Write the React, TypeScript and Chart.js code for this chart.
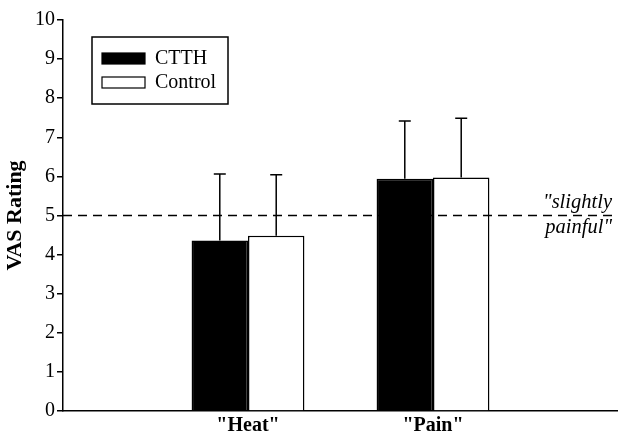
import React, { useEffect, useRef } from "react";
import { Chart, registerables } from "chart.js";

Chart.register(...registerables);

const categories = ['"Heat"', '"Pain"'];
const seriesNames = ["CTTH", "Control"];
const ctthMeans = [4.36, 5.94];
const controlMeans = [4.48, 5.97];
const ctthSD = [1.7, 1.48];
const controlSD = [1.56, 1.52];
const yTicks = [0, 1, 2, 3, 4, 5, 6, 7, 8, 9, 10];
const referenceValue = 5;
const referenceLabel = ['"slightly', 'painful"'];

const SERIF = "'Liberation Serif', 'DejaVu Serif', serif";

export default function App() {
  const ref = useRef<HTMLCanvasElement | null>(null);

  useEffect(() => {
    if (!ref.current) return;
    const errors = [ctthSD, controlSD];

    const overlay = {
      id: "overlay",
      afterDatasetsDraw(chart: any) {
        const ctx = chart.ctx;
        const y = chart.scales.y;
        const area = chart.chartArea;
        ctx.save();
        // error bars
        chart.data.datasets.forEach((ds: any, di: number) => {
          const meta = chart.getDatasetMeta(di);
          meta.data.forEach((bar: any, i: number) => {
            const v = ds.data[i].y;
            const top = y.getPixelForValue(v + errors[di][i]);
            const base = y.getPixelForValue(v);
            ctx.strokeStyle = "#000";
            ctx.lineWidth = 1.5;
            ctx.beginPath();
            ctx.moveTo(bar.x, base);
            ctx.lineTo(bar.x, top);
            ctx.moveTo(bar.x - 6, top);
            ctx.lineTo(bar.x + 6, top);
            ctx.stroke();
          });
        });
        // reference dashed line
        const ry = y.getPixelForValue(referenceValue);
        ctx.setLineDash([9, 6]);
        ctx.lineWidth = 1.5;
        ctx.beginPath();
        ctx.moveTo(area.left, ry);
        ctx.lineTo(chart.width, ry);
        ctx.stroke();
        ctx.setLineDash([]);
        // reference label
        ctx.fillStyle = "#000";
        ctx.font = `italic 20.5px ${SERIF}`;
        ctx.textAlign = "right";
        ctx.textBaseline = "alphabetic";
        ctx.fillText(referenceLabel[0], chart.width - 6, ry - 8);
        ctx.fillText(referenceLabel[1], chart.width - 6, ry + 17);
        // legend box
        const lx = 92, ly = 37, lw = 136, lh = 67;
        ctx.lineWidth = 1.5;
        ctx.strokeRect(lx, ly, lw, lh);
        const fills = ["#000", "#fff"];
        ctx.font = `20px ${SERIF}`;
        ctx.textAlign = "left";
        ctx.textBaseline = "middle";
        seriesNames.forEach((name, k) => {
          const sy = ly + 16 + k * 24;
          ctx.fillStyle = fills[k];
          ctx.fillRect(lx + 10, sy, 43, 11);
          ctx.strokeStyle = "#000";
          ctx.lineWidth = 1.2;
          ctx.strokeRect(lx + 10, sy, 43, 11);
          ctx.fillStyle = "#000";
          ctx.fillText(name, lx + 63, sy + 6);
        });
        ctx.restore();
      },
    };

    const chart = new Chart(ref.current, {
      type: "bar",
      data: {
        datasets: [
          {
            label: seriesNames[0],
            data: ctthMeans.map((v, i) => ({ x: i + 1, y: v })),
            backgroundColor: "#000",
            borderColor: "#000",
            borderWidth: 1.5,
          },
          {
            label: seriesNames[1],
            data: controlMeans.map((v, i) => ({ x: i + 1, y: v })),
            backgroundColor: "#fff",
            borderColor: "#000",
            borderWidth: 1.5,
          },
        ] as any,
      },
      options: {
        animation: false,
        responsive: false,
        devicePixelRatio: 1,
        layout: { padding: { top: 20, right: 0, left: 0, bottom: 0 } },
        datasets: { bar: { categoryPercentage: 0.61, barPercentage: 1 } } as any,
        plugins: {
          legend: { display: false },
          tooltip: { enabled: false },
        },
        scales: {
          x: {
            type: "linear",
            offset: false,
            min: 0,
            max: categories.length + 1,
            afterFit: (s: any) => {
              s.height = 24;
            },
            afterBuildTicks: (s: any) => {
              s.ticks = [0, 1, 2, 3].map((v) => ({ value: v }));
            },
            ticks: {
              stepSize: 1,
              autoSkip: false,
              maxRotation: 0,
              padding: 0,
              color: "#000",
              font: { family: SERIF, size: 20, weight: "bold", lineHeight: 1.5 },
              callback: (v: any) => categories[Number(v) - 1] ?? "",
            },
            grid: { display: false, drawTicks: false, tickLength: 0 },
            border: { display: true, color: "#000", width: 1.5 },
          },
          y: {
            min: 0,
            max: 10,
            afterFit: (s: any) => {
              s.width = 63;
            },
            afterBuildTicks: (s: any) => {
              s.ticks = yTicks.map((v) => ({ value: v }));
            },
            ticks: {
              stepSize: 1,
              padding: 2,
              color: "#000",
              font: { family: SERIF, size: 20 },
            },
            grid: {
              drawOnChartArea: false,
              drawTicks: true,
              tickLength: 6,
              color: "#000",
              lineWidth: 1.5,
            },
            border: { display: true, color: "#000", width: 1.5 },
            title: {
              display: true,
              text: "VAS Rating",
              color: "#000",
              padding: { top: 2, bottom: 4 },
              font: { family: SERIF, size: 22, weight: "bold" },
            },
          },
        },
      },
      plugins: [overlay],
    });
    return () => chart.destroy();
  }, []);

  return (
    <div style={{ position: "fixed", left: 0, top: 0, width: 618, height: 435, background: "#fff" }}>
      <canvas ref={ref} width={618} height={435} />
    </div>
  );
}
